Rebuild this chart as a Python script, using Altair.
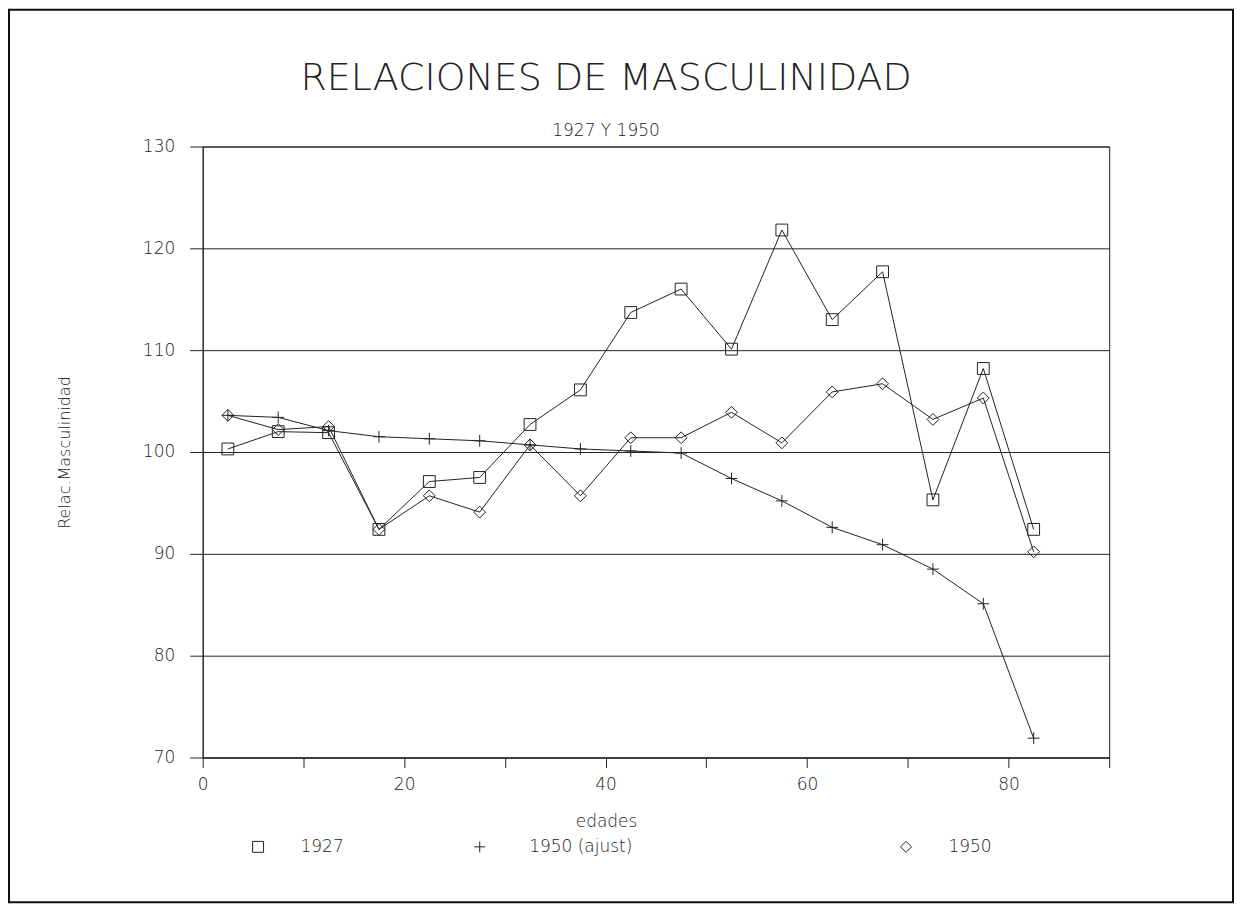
import altair as alt
import pandas as pd

# ---- data ----
ages = [2.5, 7.5, 12.5, 17.5, 22.5, 27.5, 32.5, 37.5, 42.5, 47.5,
        52.5, 57.5, 62.5, 67.5, 72.5, 77.5, 82.5]
v1927 = [100.3, 102.0, 101.9, 92.4, 97.1, 97.5, 102.7, 106.1, 113.7, 116.0,
         110.1, 121.8, 113.0, 117.7, 95.3, 108.2, 92.4]
v1950_ajust = [103.6, 103.4, 102.1, 101.5, 101.3, 101.1, 100.7, 100.3, 100.1, 99.9,
               97.4, 95.2, 92.6, 90.9, 88.5, 85.1, 71.9]
v1950 = [103.6, 102.2, 102.5, 92.4, 95.7, 94.1, 100.7, 95.7, 101.4, 101.4,
         103.9, 100.9, 105.9, 106.7, 103.2, 105.3, 90.2]

series_names = ["1927", "1950 (ajust)", "1950"]
series_shapes = ["square", "M-1,0H1M0,-1V1", "diamond"]
x_ticks = [0, 10, 20, 30, 40, 50, 60, 70, 80, 90]
y_ticks = [70, 80, 90, 100, 110, 120, 130]

title_text = "RELACIONES DE MASCULINIDAD"
subtitle_text = "1927 Y 1950"
x_title = "edades"
y_title = "Relac.Masculinidad"

rows = []
for name, vals in zip(series_names, [v1927, v1950_ajust, v1950]):
    for a, v in zip(ages, vals):
        rows.append({"edad": a, "valor": v, "serie": name})
df = pd.DataFrame(rows)

FONT = "DejaVu Sans"
LIGHT = 200
INK = "#222222"
W, H = 908, 612

x_enc = alt.X(
    "edad:Q",
    scale=alt.Scale(domain=[0, 90], nice=False, zero=False),
    axis=alt.Axis(
        values=x_ticks,
        labelExpr="datum.value % 20 == 0 && datum.value < 90 ? datum.label : ''",
        grid=False, tickSize=10, labelPadding=9, labelFontSize=17,
        labelFontWeight=LIGHT,
        labelColor=INK, domainColor=INK, tickColor=INK,
        title=x_title, titleFontSize=17, titleFontWeight=LIGHT, titleColor=INK,
        titleX=404, titleY=64, titleAlign="center", titleBaseline="middle",
        labelFlush=False,
    ),
)
y_enc = alt.Y(
    "valor:Q",
    scale=alt.Scale(domain=[70, 130], nice=False, zero=False),
    axis=alt.Axis(
        values=y_ticks, grid=True, gridColor=INK, gridOpacity=1, gridWidth=1,
        tickSize=13, labelPadding=15, labelFontSize=17, labelFontWeight=LIGHT,
        labelColor=INK, domainColor=INK, tickColor=INK,
        title=y_title, titleFontSize=16, titleFontWeight=LIGHT, titleColor=INK,
        titleX=-138, titleY=306, titleAngle=-90, titleAlign="center",
        titleBaseline="middle",
    ),
)

lines = alt.Chart(df).mark_line(color=INK, strokeWidth=1).encode(
    x=x_enc, y=y_enc, detail="serie:N"
)

legend_pos = {"1927": (47, 34), "1950 (ajust)": (269, 41), "1950": (696, 34)}


def point_layer(name, shape):
    lx, off = legend_pos[name]
    return alt.Chart(df).transform_filter(alt.datum.serie == name).mark_point(
        filled=False, color=INK, opacity=1, strokeWidth=1, size=140
    ).encode(
        x=x_enc,
        y=y_enc,
        shape=alt.Shape(
            "serie:N",
            scale=alt.Scale(domain=[name], range=[shape]),
            legend=alt.Legend(
                title=None, orient="none", legendX=lx, legendY=693,
                padding=0, labelOffset=off, labelFontSize=17, labelColor=INK,
                labelFontWeight=LIGHT,
                symbolStrokeColor=INK, symbolFillColor="transparent",
                symbolStrokeWidth=1, symbolSize=120, labelBaseline="middle",
            ),
        ),
    )


points = [point_layer(n, s) for n, s in zip(series_names, series_shapes)]

one = alt.Data(values=[{"k": 1}])
frame = alt.Chart(one).mark_rect(
    fillOpacity=0, stroke="#111111", strokeWidth=2
).encode(
    x=alt.value(-194), x2=alt.value(1032), y=alt.value(-137), y2=alt.value(757)
)
title = alt.Chart(one).mark_text(
    text=title_text, fontSize=38, font=FONT, fontWeight=LIGHT, color=INK,
    align="center", baseline="middle"
).encode(x=alt.value(404), y=alt.value(-68))
subtitle = alt.Chart(one).mark_text(
    text=subtitle_text, fontSize=17, font=FONT, fontWeight=LIGHT, color=INK,
    align="center", baseline="middle"
).encode(x=alt.value(404), y=alt.value(-16))

chart = alt.layer(frame, title, subtitle, lines, *points).resolve_scale(
    shape="independent"
).properties(width=W, height=H, padding=0).configure(
    font=FONT
).configure_view(
    stroke=INK, strokeWidth=1
).configure_axis(
    labelFont=FONT, titleFont=FONT
).configure_legend(
    labelFont=FONT
)

chart.save("out.html", embed_options={"renderer": "svg", "actions": False})
